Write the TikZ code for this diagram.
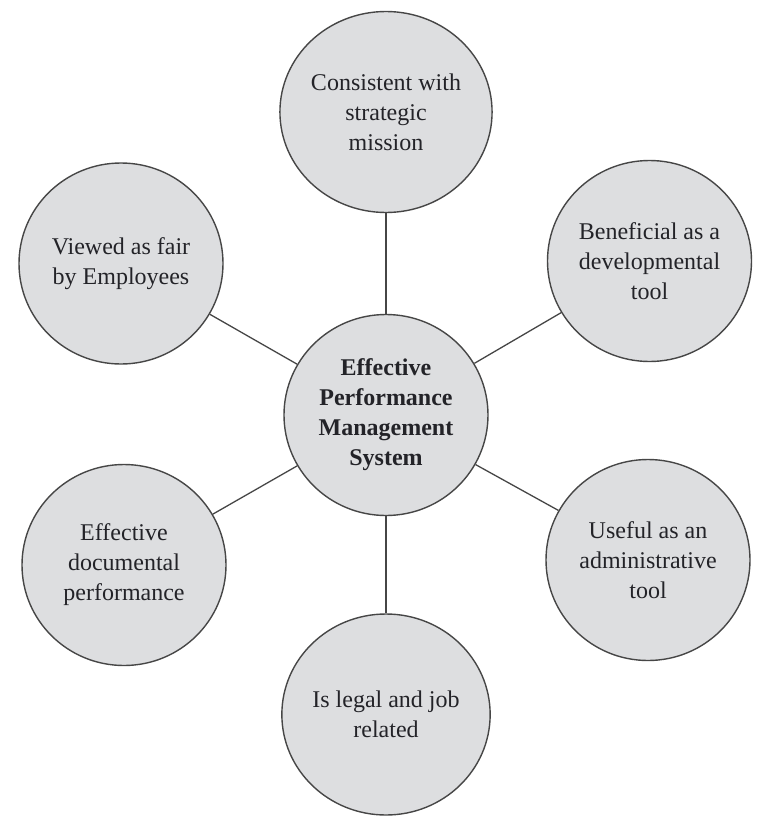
\documentclass[tikz,border=0pt]{standalone}
\usepackage{fontspec}
\setmainfont{Liberation Serif}
\usetikzlibrary{shapes.geometric}
\definecolor{bubblefill}{RGB}{221,222,224}
\definecolor{bubbleline}{RGB}{70,70,70}
\definecolor{txt}{RGB}{35,35,40}
\tikzset{
  bubble/.style={ellipse, draw=bubbleline, line width=1.4pt, fill=bubblefill,
    minimum width=204pt, minimum height=201pt, inner sep=0pt, align=center,
    text=txt, font=\fontsize{24}{30}\selectfont},
  hub/.style={bubble, font=\fontsize{24}{30}\selectfont\bfseries},
  link/.style={draw=bubbleline, line width=1.3pt}
}
\begin{document}
\begin{tikzpicture}[x=1pt,y=-1pt]
\useasboundingbox (0,0) rectangle (768,822);
\node[hub]    (c)  at (386,415)   {Effective\\Performance\\Management\\System};
\node[bubble] (t)  at (386,112)   {Consistent with\\strategic\\mission};
\node[bubble] (tl) at (121,263.5) {Viewed as fair\\by Employees};
\node[bubble] (tr) at (649.5,261) {Beneficial as a\\developmental\\tool};
\node[bubble] (bl) at (124,565)   {Effective\\documental\\performance};
\node[bubble] (br) at (648,560)   {Useful as an\\administrative\\tool};
\node[bubble] (b)  at (386,714.5) {Is legal and job\\related};
\path[link] (c) -- (t);
\path[link] (c) -- (tl);
\path[link] (c) -- (tr);
\path[link] (c) -- (bl);
\path[link] (c) -- (br);
\path[link] (c) -- (b);
\end{tikzpicture}
\end{document}
